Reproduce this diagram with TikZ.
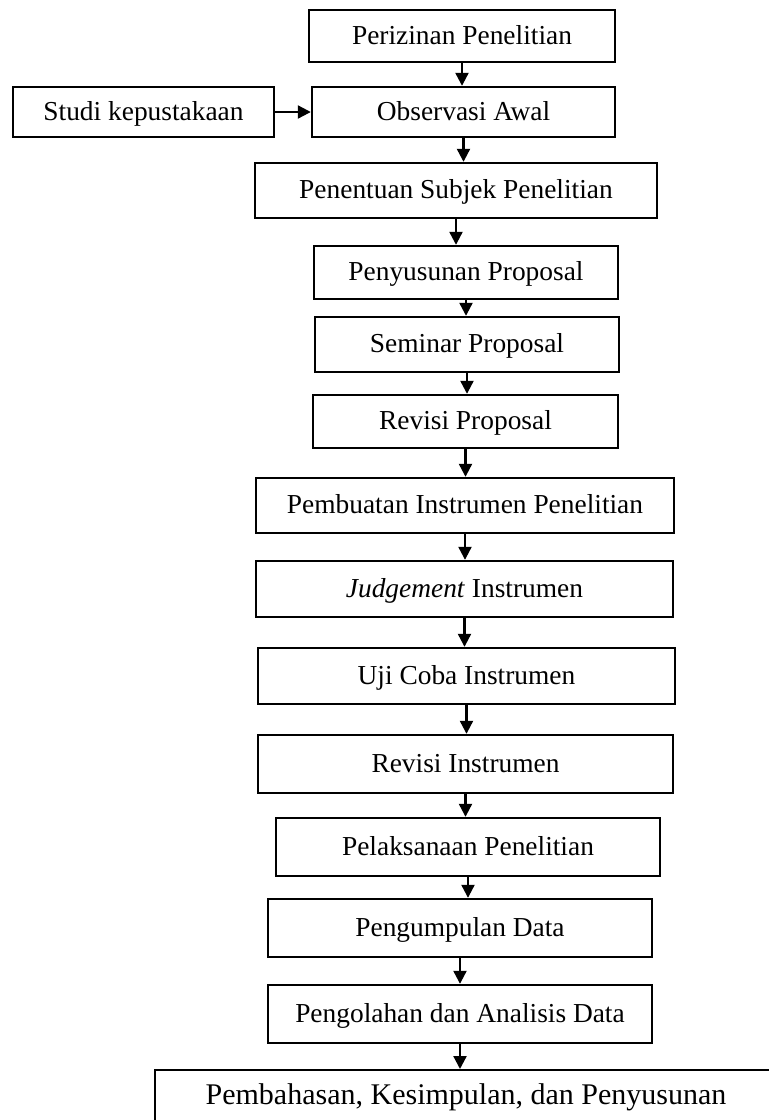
\documentclass[tikz,border=0pt]{standalone}
\usepackage{fontspec}
\setmainfont{Liberation Serif}
\usetikzlibrary{arrows.meta}

\begin{document}
\begin{tikzpicture}[
        x=0.5pt, y=-0.5pt,
        font=\fontsize{13.7}{16}\selectfont,
        stepbox/.style={
            rectangle, draw=black, line width=1.2pt,
            fill=white, align=center,
            text height=0.9em, text depth=0.1em
        },
        arr/.style={-{Triangle[length=6.5pt,width=6.5pt]}, line width=1.1pt}
    ]

    % page frame
    \useasboundingbox (0,0) rectangle (768,1120);

    % top part
    \node[stepbox, minimum width=153pt, minimum height=26pt]
        (perizinan) at (462,36) {Perizinan Penelitian};
    \node[stepbox, minimum width=130.5pt, minimum height=25pt]
        (studi) at (143.5,112) {Studi kepustakaan};
    \node[stepbox, minimum width=151.5pt, minimum height=25pt]
        (observasi) at (463.5,112) {Observasi Awal};
    \node[stepbox, minimum width=201pt, minimum height=27.5pt]
        (penentuan) at (456,190.5) {Penentuan Subjek Penelitian};

    % proposal
    \node[stepbox, minimum width=152pt, minimum height=26.5pt]
        (penyusunan) at (466,272.5) {Penyusunan Proposal};
    \node[stepbox, minimum width=152pt, minimum height=27.5pt]
        (seminar) at (467,344.5) {Seminar Proposal};
    \node[stepbox, minimum width=152.5pt, minimum height=26.5pt]
        (revprop) at (465.5,421.5) {Revisi Proposal};

    % instrumen
    \node[stepbox, minimum width=209pt, minimum height=27.5pt]
        (pembuatan) at (465,505.5) {Pembuatan Instrumen Penelitian};
    \node[stepbox, minimum width=208.5pt, minimum height=28pt]
        (judgement) at (464.5,589) {\textit{Judgement} Instrumen};
    \node[stepbox, minimum width=208.5pt, minimum height=28pt]
        (ujicoba) at (466.5,676) {Uji Coba Instrumen};
    \node[stepbox, minimum width=207.5pt, minimum height=29pt]
        (revinst) at (465.5,764) {Revisi Instrumen};

    % pelaksanaan dan data
    \node[stepbox, minimum width=192pt, minimum height=29pt]
        (pelaksanaan) at (468,847) {Pelaksanaan Penelitian};
    \node[stepbox, minimum width=192pt, minimum height=29pt]
        (pengumpulan) at (460,928) {Pengumpulan Data};
    \node[stepbox, minimum width=192pt, minimum height=29pt]
        (pengolahan) at (460,1014) {Pengolahan dan Analisis Data};

    % last box, cut by the page
    \node[stepbox, anchor=north, minimum width=311pt,
          font=\fontsize{15}{18}\selectfont,
          text height=11pt, text depth=22pt, inner ysep=6pt]
        (pembahasan) at (466,1069) {Pembahasan, Kesimpulan, dan Penyusunan};

    % arrows
    \draw[arr] (studi.east) -- (observasi.west);
    \foreach \a/\b in {perizinan/observasi, observasi/penentuan,
                       penentuan/penyusunan, penyusunan/seminar,
                       seminar/revprop, revprop/pembuatan,
                       pembuatan/judgement, judgement/ujicoba,
                       ujicoba/revinst, revinst/pelaksanaan,
                       pelaksanaan/pengumpulan, pengumpulan/pengolahan,
                       pengolahan/pembahasan}
        \draw[arr] (\a.south) -- (\a.south |- \b.north);

\end{tikzpicture}
\end{document}
